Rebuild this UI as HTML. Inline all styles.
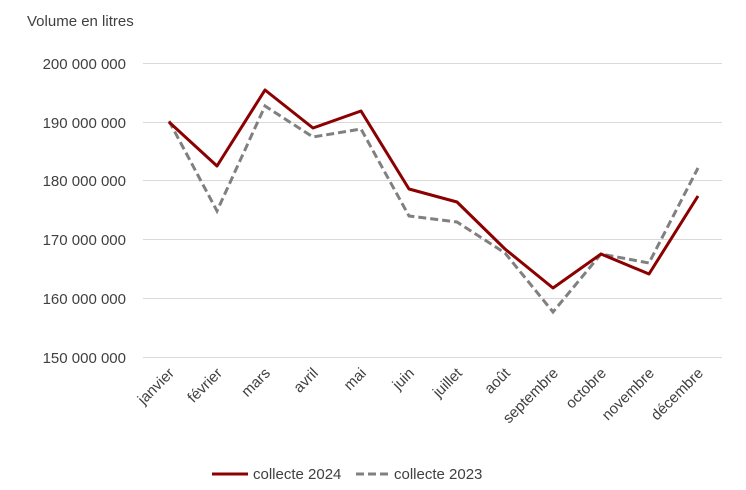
<!DOCTYPE html>
<html><head><meta charset="utf-8"><style>
html,body{margin:0;padding:0;background:#fff;}
svg{display:block;font-family:"Liberation Sans","DejaVu Sans",sans-serif;}
</style></head><body>
<svg width="746" height="490" viewBox="0 0 746 490" xmlns="http://www.w3.org/2000/svg">
<rect width="746" height="490" fill="#fff"/>
<text x="27" y="26" font-size="15" fill="#404040">Volume en litres</text>
<g stroke="#d9d9d9" stroke-width="1">
<line x1="143" y1="63.5" x2="722" y2="63.5"/>
<line x1="143" y1="122.5" x2="722" y2="122.5"/>
<line x1="143" y1="180.5" x2="722" y2="180.5"/>
<line x1="143" y1="239.5" x2="722" y2="239.5"/>
<line x1="143" y1="298.5" x2="722" y2="298.5"/>
<line x1="143" y1="357.5" x2="722" y2="357.5"/>
</g>
<g font-size="15" fill="#404040" text-anchor="end">
<text x="126" y="69">200 000 000</text>
<text x="126" y="128">190 000 000</text>
<text x="126" y="186">180 000 000</text>
<text x="126" y="245">170 000 000</text>
<text x="126" y="304">160 000 000</text>
<text x="126" y="363">150 000 000</text>
</g>
<g font-size="15" fill="#404040" text-anchor="end">
<text transform="translate(175,374) rotate(-45)">janvier</text>
<text transform="translate(223,374) rotate(-45)">février</text>
<text transform="translate(271,374) rotate(-45)">mars</text>
<text transform="translate(319,374) rotate(-45)">avril</text>
<text transform="translate(367,374) rotate(-45)">mai</text>
<text transform="translate(415,374) rotate(-45)">juin</text>
<text transform="translate(463,374) rotate(-45)">juillet</text>
<text transform="translate(511,374) rotate(-45)">août</text>
<text transform="translate(559,374) rotate(-45)">septembre</text>
<text transform="translate(607,374) rotate(-45)">octobre</text>
<text transform="translate(655,374) rotate(-45)">novembre</text>
<text transform="translate(704,374) rotate(-45)">décembre</text>
</g>
<polyline fill="none" stroke="#808080" stroke-width="3" stroke-dasharray="8,4" points="169,121 217,211 265,106 313,137 361,129 409,216 457,222 505,253 553,312 601,254 649,263 698,168"/>
<polyline fill="none" stroke="#8b0000" stroke-width="3" stroke-linejoin="round" points="169,122 217,166 265,90 313,128 361,111 409,189 457,202 505,249 553,288 601,254 649,274 698,196"/>
<line x1="212" y1="474" x2="248" y2="474" stroke="#8b0000" stroke-width="3"/>
<text x="253" y="479" font-size="15" fill="#404040">collecte 2024</text>
<line x1="356" y1="474" x2="390" y2="474" stroke="#808080" stroke-width="3" stroke-dasharray="8,4"/>
<text x="394" y="479" font-size="15" fill="#404040">collecte 2023</text>
</svg>
</body></html>
